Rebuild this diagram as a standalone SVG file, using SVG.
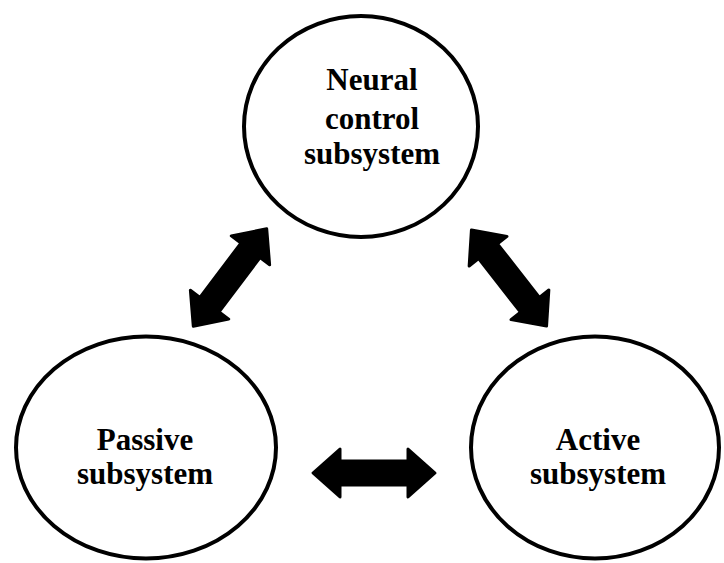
<svg xmlns="http://www.w3.org/2000/svg" width="724" height="563" viewBox="0 0 724 563">
<defs>
<style>
.node ellipse{fill:#fff;stroke:#000;stroke-width:4}
.lbl{font-family:"Liberation Serif","Times New Roman",serif;font-weight:bold;font-size:31px;fill:#000;text-anchor:middle}
.arr{fill:#000;stroke:#000;stroke-width:3;stroke-linejoin:round}
</style>
<polygon id="dbl" class="arr" points="-61,0 -34,-24 -34,-12 34,-12 34,-24 61,0 34,24 34,12 -34,12 -34,24"/>
</defs>
<rect width="724" height="563" fill="#fff"/>
<g id="neural" class="node">
<ellipse cx="361" cy="126.5" rx="117" ry="110.5"/>
<text class="lbl" x="372" y="90">Neural</text>
<text class="lbl" x="372" y="129">control</text>
<text class="lbl" x="372" y="164">subsystem</text>
</g>
<g id="passive" class="node">
<ellipse cx="146" cy="447.5" rx="130" ry="111"/>
<text class="lbl" x="145" y="450">Passive</text>
<text class="lbl" x="145" y="484">subsystem</text>
</g>
<g id="active" class="node">
<ellipse cx="595" cy="447.5" rx="124" ry="111"/>
<text class="lbl" x="598" y="450">Active</text>
<text class="lbl" x="598" y="484">subsystem</text>
</g>
<g id="connectors">
<use href="#dbl" transform="translate(230,277.5) rotate(-53)"/>
<use href="#dbl" transform="translate(509,278) rotate(52)"/>
<use href="#dbl" transform="translate(374,473)"/>
</g>
</svg>
